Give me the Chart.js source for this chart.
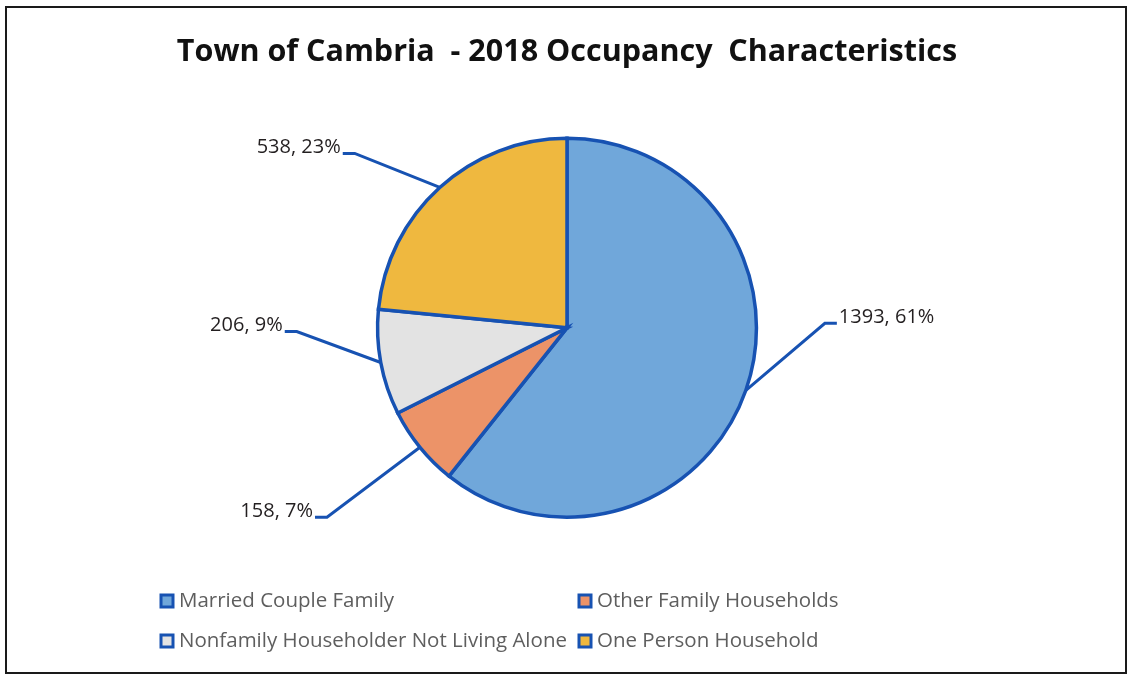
<!DOCTYPE html>
<html>
<head>
<meta charset="utf-8">
<script src="https://cdn.jsdelivr.net/npm/chart.js@4"></script>
<style>
  html, body { margin: 0; padding: 0; background: #fff; }
  #wrap { position: relative; width: 1130px; height: 677px; }
</style>
</head>
<body>
<div id="wrap"><canvas id="c" width="1130" height="677"></canvas></div>
<script>
// ---- data ----
const categories = [
  'Married Couple Family',
  'Other Family Households',
  'Nonfamily Householder Not Living Alone',
  'One Person Household'
];
const households = [1393, 158, 206, 538];
const chartTitle = 'Town of Cambria  - 2018 Occupancy  Characteristics';

// ---- styles / layout ----
const sliceColors = ['#70a7da', '#ec9368', '#e3e3e3', '#efb83f'];
const edgeColor = '#1752b2';
const labelOffsets = [[79, -67], [-93, 70], [-84, -31], [-85, -34]];
const legendCols = [160, 578];
const legendRows = [601, 641];

const total = households.reduce((a, b) => a + b, 0);

const decorPlugin = {
  id: 'decor',
  beforeDraw(chart) {
    const ctx = chart.ctx;
    ctx.save();
    ctx.strokeStyle = '#1a1a1a';
    ctx.lineWidth = 2;
    ctx.strokeRect(6, 7, 1120, 666);
    ctx.restore();
  },
  afterDatasetsDraw(chart) {
    const ctx = chart.ctx;
    const meta = chart.getDatasetMeta(0);
    ctx.save();
    meta.data.forEach((arc, i) => {
      const p = arc.getProps(['x', 'y', 'startAngle', 'endAngle', 'outerRadius'], true);
      const mid = (p.startAngle + p.endAngle) / 2;
      const ax = p.x + Math.cos(mid) * p.outerRadius;
      const ay = p.y + Math.sin(mid) * p.outerRadius;
      const ex = ax + labelOffsets[i][0];
      const ey = ay + labelOffsets[i][1];
      const dir = labelOffsets[i][0] >= 0 ? 1 : -1;
      const hx = ex + dir * 12;
      ctx.strokeStyle = edgeColor;
      ctx.lineWidth = 3;
      ctx.lineJoin = 'miter';
      ctx.beginPath();
      ctx.moveTo(ax, ay);
      ctx.lineTo(ex, ey);
      ctx.lineTo(hx, ey);
      ctx.stroke();
      const pct = Math.round(households[i] / total * 100);
      const txt = households[i] + ', ' + pct + '%';
      ctx.fillStyle = '#231f20';
      ctx.font = '500 20px "Open Sans"';
      ctx.textBaseline = 'middle';
      ctx.textAlign = dir > 0 ? 'left' : 'right';
      ctx.fillText(txt, hx + dir * 2, ey - 6);
    });
    ctx.restore();
  },
  afterDraw(chart) {
    const ctx = chart.ctx;
    ctx.save();
    ctx.font = '20.5px "Open Sans"';
    ctx.textBaseline = 'middle';
    ctx.textAlign = 'left';
    categories.forEach((name, i) => {
      const x = legendCols[i % 2];
      const y = legendRows[Math.floor(i / 2)];
      ctx.fillStyle = sliceColors[i];
      ctx.fillRect(x + 1, y - 6, 12, 12);
      ctx.strokeStyle = edgeColor;
      ctx.lineWidth = 3;
      ctx.strokeRect(x + 1, y - 6, 12, 12);
      ctx.fillStyle = '#5e5e5e';
      ctx.fillText(name, x + 19, y);
    });
    ctx.restore();
  }
};

new Chart(document.getElementById('c'), {
  type: 'pie',
  data: {
    labels: categories,
    datasets: [{
      data: households,
      backgroundColor: sliceColors,
      borderColor: edgeColor,
      borderWidth: 3.5,
      borderJoinStyle: 'miter'
    }]
  },
  options: {
    responsive: false,
    animation: false,
    events: [],
    layout: { padding: { top: 0, bottom: 158, left: 100, right: 96 } },
    plugins: {
      legend: { display: false },
      tooltip: { enabled: false },
      title: {
        display: true,
        text: chartTitle,
        color: '#111',
        font: { family: '"Open Sans"', size: 30.5, weight: 'bold' },
        padding: { top: 34, bottom: 66 }
      }
    }
  },
  plugins: [decorPlugin]
});
</script>
</body>
</html>
